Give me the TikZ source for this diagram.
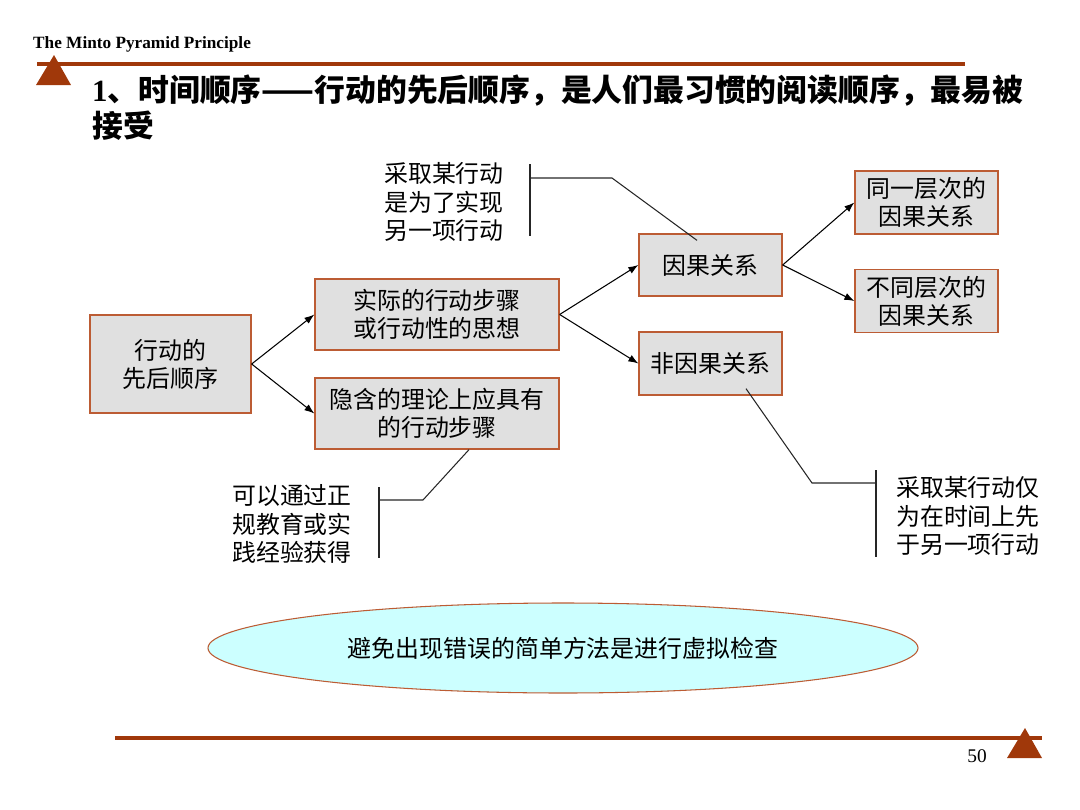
\documentclass[tikz,border=0pt]{standalone}
\usepackage{fontspec}
\setmainfont{Liberation Serif}
\newfontfamily\cjk{Noto Sans CJK SC}
\usetikzlibrary{shapes.geometric, arrows.meta, positioning, calc}
\definecolor{MintoBrown}{HTML}{A0380A}
\definecolor{MintoBorder}{HTML}{BC5C34}
\definecolor{MintoGray}{HTML}{E0E0E0}
\definecolor{MintoCyan}{HTML}{CCFFFF}
\tikzset{
    % Boxes with sharp corners
    step box/.style={
        rectangle,
        draw=MintoBorder,
        fill=MintoGray,
        line width=1.1pt,
        align=center,
        inner sep=0pt,
        font=\cjk\fontsize{20.4}{24}\selectfont
    },
    note text/.style={
        align=left,
        inner sep=0pt,
        anchor=west,
        font=\cjk\fontsize{20.4}{24.6}\selectfont
    },
    summary ellipse/.style={
        ellipse,
        draw=MintoBorder,
        fill=MintoCyan,
        line width=0.9pt,
        minimum width=21.3cm,
        minimum height=2.7cm,
        font=\cjk\fontsize{20.4}{24}\selectfont
    },
    arrow style/.style={
        -{Latex[length=3mm,width=2.2mm]},
        line width=0.9pt,
        black
    },
    callout line/.style={
        line width=0.9pt,
        black!85
    },
    rule line/.style={
        line width=3pt,
        MintoBrown
    },
    marker/.style={
        fill=MintoBrown
    }
}

\begin{document}
\begin{tikzpicture}[x=0.03cm, y=-0.03cm]
        \useasboundingbox (0,0) rectangle (1080,810);

        % Header
        \node[anchor=base west, inner sep=0pt, font=\fontsize{14.7}{16}\selectfont\bfseries] (header) at (33,48) {The Minto Pyramid Principle};
        \draw[rule line] (37,64) -- (965,64);
        \fill[marker] (54,55) -- (71,85) -- (36,85) -- cycle;

        % Title
        \node[anchor=west, inner sep=0pt, font=\fontsize{26.3}{30}\selectfont\bfseries] (title) at (92,91) {1\cjk 、时间顺序——行动的先后顺序，是人们最习惯的阅读顺序，最易被};
        \node[anchor=west, inner sep=0pt, font=\cjk\fontsize{26.3}{30}\selectfont\bfseries] (title2) at (92,126) {接受};

        % Steps
        \node[step box, minimum width=4.83cm, minimum height=2.94cm] (order) at (170.5,364) {行动的\\先后顺序};
        \node[step box, minimum width=7.32cm, minimum height=2.13cm] (actual) at (437,314.5) {实际的行动步骤\\或行动性的思想};
        \node[step box, minimum width=7.32cm, minimum height=2.13cm] (implied) at (437,413.5) {隐含的理论上应具有\\的行动步骤};

        % Relations
        \node[step box, minimum width=4.29cm, minimum height=1.86cm] (cause) at (710.5,265) {因果关系};
        \node[step box, minimum width=4.29cm, minimum height=1.89cm] (noncause) at (710.5,363.5) {非因果关系};
        \node[step box, minimum width=4.29cm, minimum height=1.89cm] (same) at (926.5,202.5) {同一层次的\\因果关系};
        \node[step box, minimum width=4.29cm, minimum height=1.89cm] (diff) at (926.5,301) {不同层次的\\因果关系};

        % Arrows
        \draw[arrow style] (order.east) -- (actual.west);
        \draw[arrow style] (order.east) -- (implied.west);
        \draw[arrow style] (actual.east) -- (cause.west);
        \draw[arrow style] (actual.east) -- (noncause.west);
        \draw[arrow style] (cause.east) -- (same.west);
        \draw[arrow style] (cause.east) -- (diff.west);

        % Notes
        \node[note text] (cause note) at (384,202) {采取某行动\\是为了实现\\另一项行动};
        \node[note text] (learn note) at (232,524) {可以通过正\\规教育或实\\践经验获得};
        \node[note text] (time note) at (896,516) {采取某行动仅\\为在时间上先\\于另一项行动};

        \coordinate (cause brace top) at (530,164);
        \coordinate (cause brace bottom) at (530,236);
        \coordinate (cause brace mid) at (530,178);
        \coordinate (cause elbow) at (612,178);
        \draw[callout line] (cause brace top) -- (cause brace bottom);
        \draw[callout line] (cause brace mid) -- (cause elbow) -- ($(cause.north)+(-13.5,7)$);

        \coordinate (learn brace top) at (379,487);
        \coordinate (learn brace bottom) at (379,558);
        \coordinate (learn brace mid) at (379,500);
        \coordinate (learn elbow) at (423,500);
        \draw[callout line] (learn brace top) -- (learn brace bottom);
        \draw[callout line] (learn brace mid) -- (learn elbow) -- ($(implied.south)+(32,0)$);

        \coordinate (time brace top) at (876,470);
        \coordinate (time brace bottom) at (876,557);
        \coordinate (time brace mid) at (876,483);
        \coordinate (time elbow) at (812,483);
        \draw[callout line] (time brace top) -- (time brace bottom);
        \draw[callout line] (time brace mid) -- (time elbow) -- ($(noncause.south)+(35.5,-7)$);

        % Summary
        \node[summary ellipse] (summary) at (563,648) {避免出现错误的简单方法是进行虚拟检查};

        % Footer
        \draw[rule line] (115,738) -- (1042,738);
        \fill[marker] (1025,728) -- (1042,758) -- (1007,758) -- cycle;
        \node[inner sep=0pt, font=\fontsize{16.5}{18}\selectfont] (page) at (977,756) {50};
    \end{tikzpicture}
\end{document}
